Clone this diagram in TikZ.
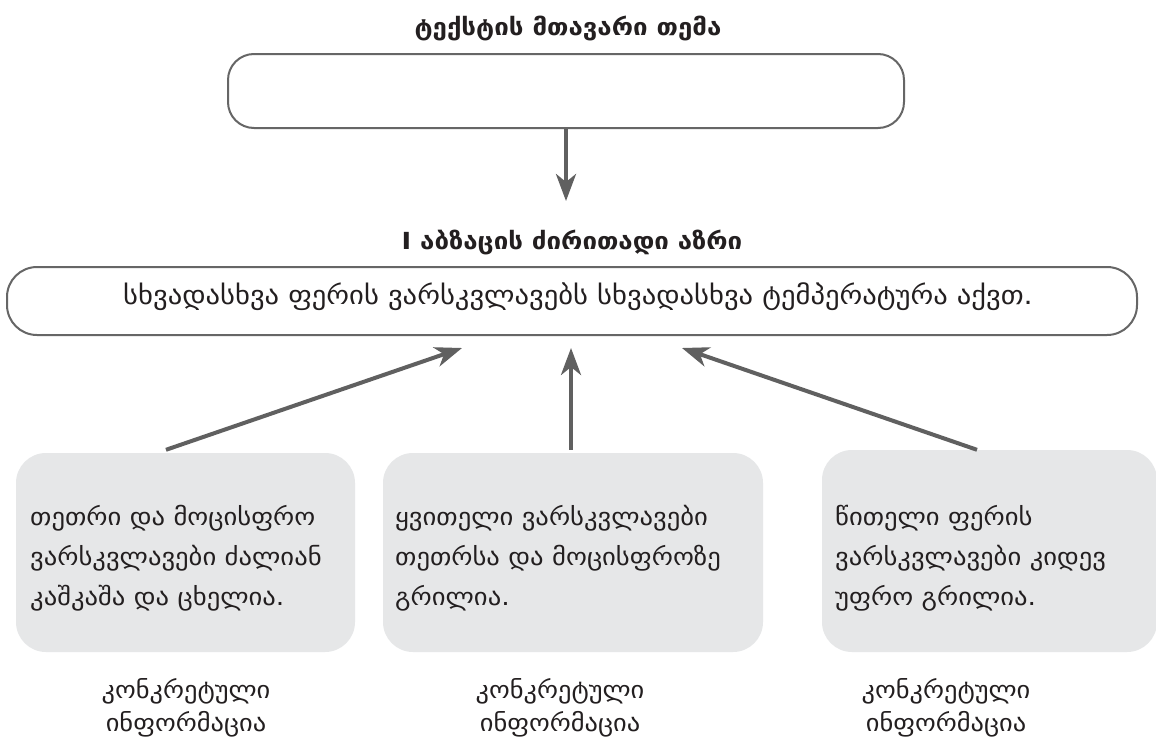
\documentclass[tikz,border=0pt]{standalone}
\usepackage{fontspec}
\setmainfont{DejaVu Sans}[FakeStretch=1.1]
\usetikzlibrary{arrows.meta,calc}
\definecolor{lineg}{HTML}{666666}
\definecolor{arrg}{HTML}{606060}
\definecolor{boxg}{HTML}{E6E7E8}
\definecolor{txt}{HTML}{231F20}
\tikzset{
  hbox/.style={draw=lineg,line width=2pt,rounded corners=26pt,inner sep=0pt},
  gbox/.style={fill=boxg,rounded corners=30pt,inner sep=0pt},
  arr/.style={draw=arrg,line width=4pt,-{Stealth[length=27pt,width=20pt,inset=8pt]}},
  heading/.style={font=\bfseries\fontsize{23.5}{28}\selectfont,text=txt,inner sep=0pt,anchor=base},
  mtext/.style={font=\fontsize{26}{30}\selectfont,text=txt,inner sep=0pt,anchor=base},
  btext/.style={font=\fontsize{24.2}{40}\selectfont,text=txt,inner sep=0pt,anchor=base west,align=left},
  ltext/.style={font=\fontsize{24}{33}\selectfont,text=txt,inner sep=0pt,anchor=base,align=center},
}
\begin{document}
\begin{tikzpicture}[x=1pt,y=-1pt]
\useasboundingbox[fill=white] (0,0) rectangle (1156,747);
\node[heading] (t1) at (568,35) {ტექსტის მთავარი თემა};
\node[hbox,minimum width=676pt,minimum height=74pt] (top) at (566,91) {};
\node[heading] (h2) at (572,249) {I აბზაცის ძირითადი აზრი};
\node[hbox,rounded corners=30pt,minimum width=1130pt,minimum height=68pt] (main) at (572,301) {};
\node[mtext] (maint) at (578,304) {სხვადასხვა ფერის ვარსკვლავებს სხვადასხვა ტემპერატურა აქვთ.};
\node[gbox,minimum width=339pt,minimum height=199pt] (b1) at (185.5,552.5) {};
\node[gbox,minimum width=380pt,minimum height=199pt] (b2) at (573,552.5) {};
\node[gbox,minimum width=335pt,minimum height=202pt] (b3) at (989.5,551) {};
\node[btext] (b1t) at (30,605) {თეთრი და მოცისფრო\\ვარსკვლავები ძალიან\\კაშკაშა და ცხელია.};
\node[btext] (b2t) at (395,605) {ყვითელი ვარსკვლავები\\თეთრსა და მოცისფროზე\\გრილია.};
\node[btext] (b3t) at (835,605) {წითელი ფერის\\ვარსკვლავები კიდევ\\უფრო გრილია.};
\node[ltext] (l1) at (186,731) {კონკრეტული\\ინფორმაცია};
\node[ltext] (l2) at (560,731) {კონკრეტული\\ინფორმაცია};
\node[ltext] (l3) at (946,731) {კონკრეტული\\ინფორმაცია};
\draw[arr] (top.south) -- ([yshift=-72pt]top.south);
\draw[arr] ([xshift=-19.5pt,yshift=3pt]b1.north) -- ([xshift=-110pt,yshift=-12pt]main.south);
\draw[arr] ([xshift=-2pt,yshift=3pt]b2.north) -- ([xshift=-1pt,yshift=-12pt]main.south);
\draw[arr] ([xshift=-12.5pt,yshift=0pt]b3.north) -- ([xshift=110pt,yshift=-12pt]main.south);
\end{tikzpicture}
\end{document}
